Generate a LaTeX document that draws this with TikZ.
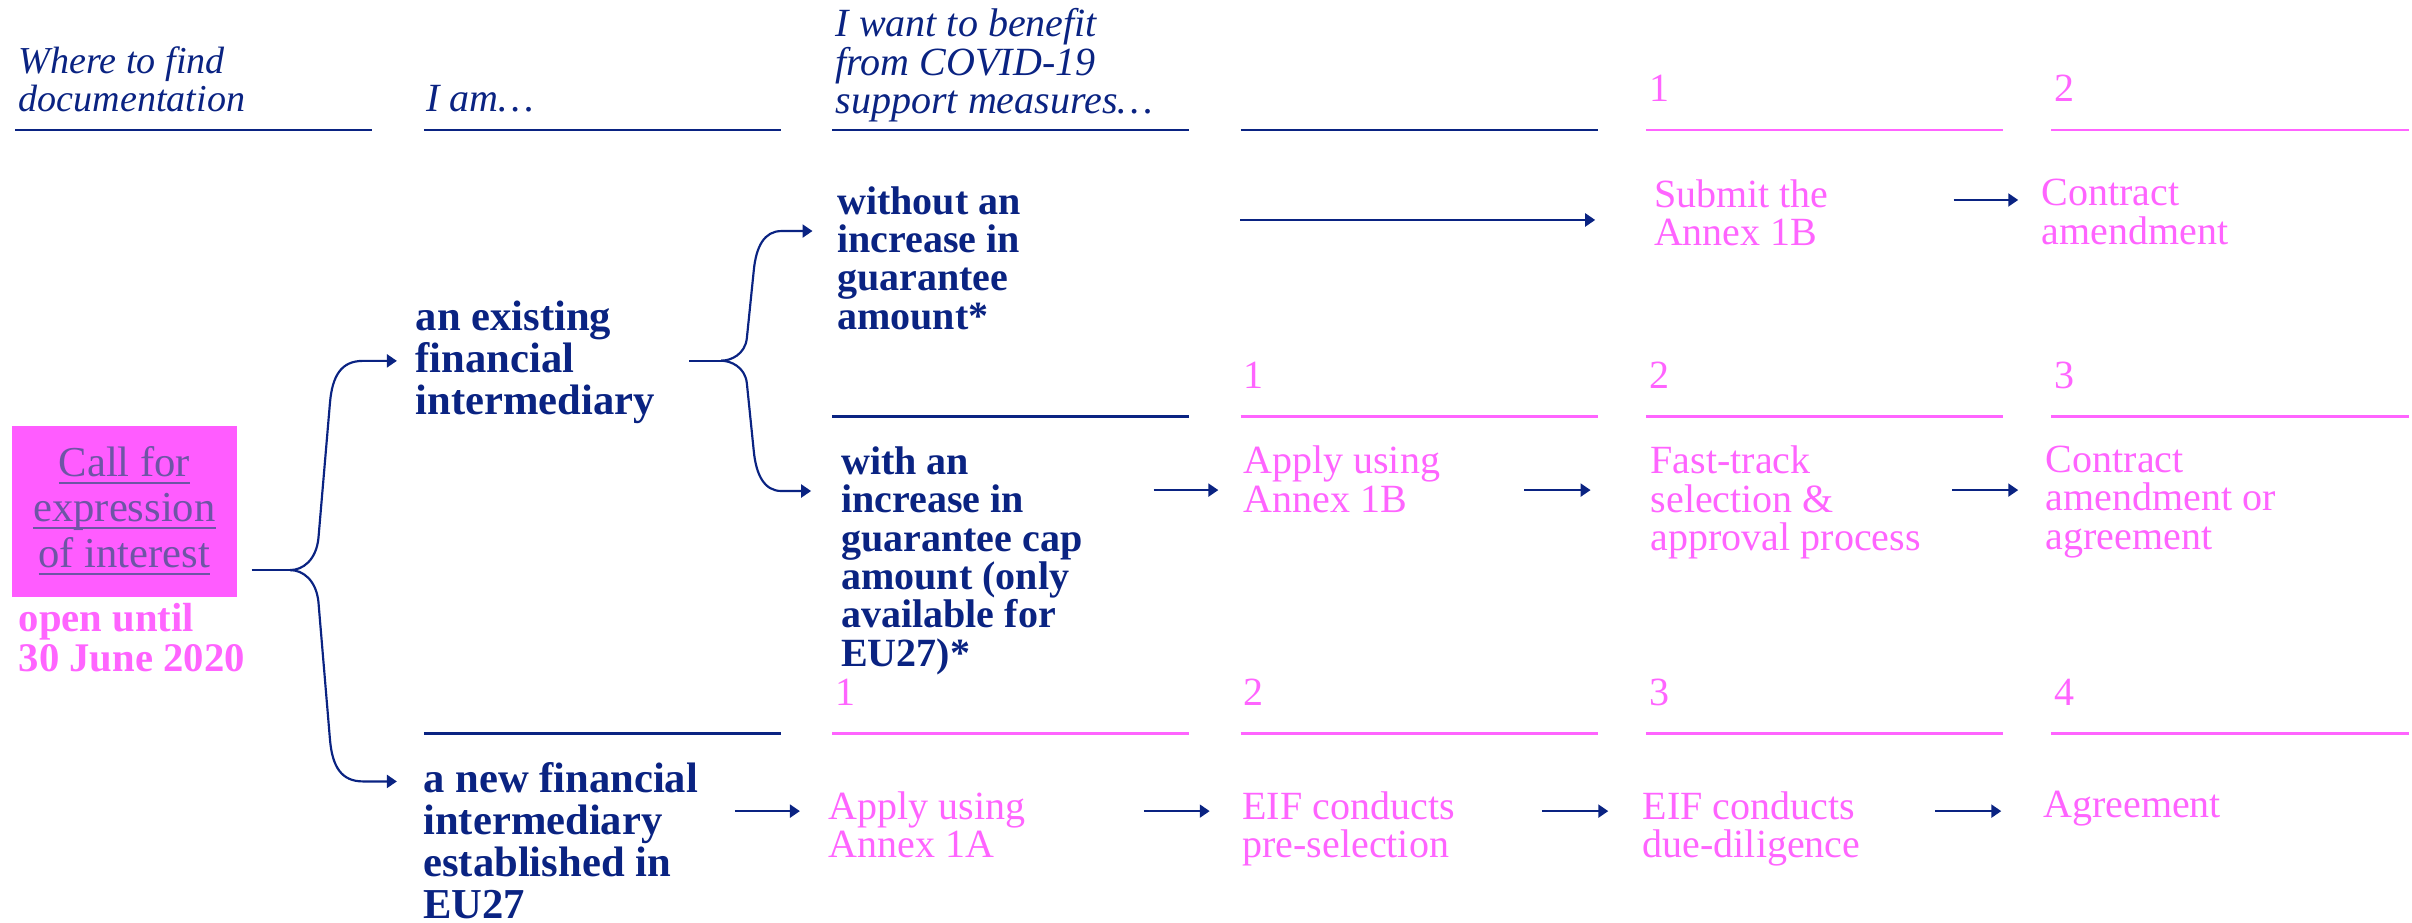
\documentclass[tikz,border=0pt]{standalone}
\usepackage{amsmath}
\usepackage{fontspec}
\setmainfont{Liberation Serif}
\usepackage{xcolor}
\usetikzlibrary{arrows.meta,calc}

\definecolor{navy}{RGB}{10,35,130}
\definecolor{rose}{RGB}{255,100,255}
\definecolor{boxpink}{RGB}{255,92,255}
\definecolor{linkcol}{RGB}{110,85,165}

\newcommand{\lnk}[1]{\underline{\smash[b]{#1}}}

\begin{document}
\begin{tikzpicture}[x=0.025cm, y=0.025cm,
  basetxt/.style={anchor=north west, inner sep=0pt, align=left, font=\fontsize{18.5}{17.75}\selectfont},
  headtxt/.style={basetxt, text=navy, font=\fontsize{18.5}{17.75}\selectfont\itshape},
  boldtxt/.style={basetxt, text=navy, font=\fontsize{18.5}{17.75}\selectfont\bfseries},
  bigtxt/.style={basetxt, text=navy, font=\fontsize{19.7}{19.3}\selectfont\bfseries},
  steptxt/.style={basetxt, text=rose},
  numtxt/.style={anchor=base west, inner sep=0pt, text=rose, font=\fontsize{18.5}{17.75}\selectfont},
  navyrule/.style={draw=navy, line width=1.3pt},
  roserule/.style={draw=rose, line width=1.3pt},
  flow/.style={draw=navy, line width=1pt, -{Triangle[length=4.6pt,width=6pt]}},
  fork/.style={draw=navy, line width=1pt}]
\useasboundingbox (0,0) rectangle (1568,600);

% column heads
\node[headtxt, font=\fontsize{17.6}{17.2}\selectfont\itshape] (Where) at (12,569.7) {Where to find\\documentation};
\node[headtxt] (Iam) at (277,544.7) {I am…};
\node[headtxt] (Want) at (543,594.7) {I want to benefit\\from COVID-19\\support measures…};

\draw[navyrule] (10,515.5) -- (242,515.5);
\draw[navyrule] (275.5,515.5) -- (507.5,515.5);
\draw[navyrule] (541,515.5) -- (773,515.5);
\draw[navyrule] (806.5,515.5) -- (1038.5,515.5);
\draw[roserule] (1070,515.5) -- (1302,515.5);
\draw[roserule] (1333.5,515.5) -- (1566,515.5);
\node[numtxt] (N11) at (1072,534) {1};
\node[numtxt] (N12) at (1335,534) {2};

\draw[navyrule] (541,329) -- (773,329);
\draw[roserule] (806.5,329) -- (1038.5,329);
\draw[roserule] (1070,329) -- (1302,329);
\draw[roserule] (1333.5,329) -- (1566,329);
\node[numtxt] (N21) at (808,347.5) {1};
\node[numtxt] (N22) at (1072,347.5) {2};
\node[numtxt] (N23) at (1335,347.5) {3};

\draw[navyrule] (275.5,123.2) -- (507.5,123.2);
\draw[roserule] (541,123.2) -- (773,123.2);
\draw[roserule] (806.5,123.2) -- (1038.5,123.2);
\draw[roserule] (1070,123.2) -- (1302,123.2);
\draw[roserule] (1333.5,123.2) -- (1566,123.2);
\node[numtxt] (N31) at (543,141.6) {1};
\node[numtxt] (N32) at (808,141.6) {2};
\node[numtxt] (N33) at (1072,141.6) {3};
\node[numtxt] (N34) at (1335,141.6) {4};

% call box
\node[fill=boxpink, minimum width=3.65cm, minimum height=2.775cm, inner sep=0pt, align=center,
  text=linkcol, font=\fontsize{19.7}{21.1}\selectfont] (Call) at (80.9,267.5)
  {\lnk{Call for}\\\lnk{expression}\\\lnk{of interest}};
\node[boldtxt, text=rose, font=\fontsize{18.8}{18.4}\selectfont\bfseries] (Open) at (11.9,208.1) {open until\\30 June 2020};

% who
\node[bigtxt] (Exist) at (270,404.5) {an existing\\financial\\intermediary};
\node[bigtxt] (New) at (275,104.4) {a new financial\\intermediary\\established in\\EU27};
\coordinate (S1) at (163.6,229.4);
\coordinate (J1) at (188.6,229.4);
	\draw[fork] (S1) -- (J1);
	\draw[flow] (J1) .. controls (197,229.4) and (205.5,236) .. (207,250) -- (214.5,338)
		.. controls (216,356) and (222,365.4) .. (236,365.4) -- ($(Exist.north west)+(-12,-39.1)$);
	\draw[flow] (J1) .. controls (197,229.4) and (205.5,222.8) .. (207,208.8) -- (214.5,119.4)
		.. controls (216,101.4) and (222,92) .. (236,92) -- ($(New.north west)+(-17,-12.4)$);

% measures
\node[boldtxt] (Without) at (544,479.2) {without an\\increase in\\guarantee\\amount*};
\node[boldtxt] (With) at (546.6,310) {with an\\increase in\\guarantee cap\\amount (only\\available for\\EU27)*};
\coordinate (S2) at (448.2,365.5);
\coordinate (J2) at (468.8,365.5);
	\draw[fork] (S2) -- (J2);
	\draw[flow] (J2) .. controls (475,365.5) and (484.3,369.5) .. (485.5,380) -- (490,424)
		.. controls (491.5,440) and (497,449.8) .. (508,449.8) -- ($(Without.north west)+(-15.8,-29.4)$);
	\draw[flow] (J2) .. controls (475,365.5) and (484.3,361.5) .. (485.5,351) -- (490,307)
		.. controls (491.5,291) and (497,280.8) .. (508,280.8) -- ($(With.north west)+(-19.3,-29.2)$);

% steps, first row
\node[steptxt] (Sub) at (1075,483.7) {Submit the\\Annex 1B};
	\draw[flow] ($(Sub.north west)+(-268.8,-26.7)$) -- ($(Sub.north west)+(-38,-26.7)$);
\node[steptxt] (Con1) at (1327,483.7) {Contract\\amendment};
	\draw[flow] ($(Con1.north west)+(-57,-13.7)$) -- ($(Con1.north west)+(-15,-13.7)$);

% steps, second row
\node[steptxt] (App1) at (808,310.3) {Apply using\\Annex 1B};
	\draw[flow] ($(App1.north west)+(-58,-28.9)$) -- ($(App1.north west)+(-16,-28.9)$);
\node[steptxt] (Fast) at (1072.8,310.3) {Fast-track\\selection \&\\approval process};
	\draw[flow] ($(Fast.north west)+(-81.8,-28.9)$) -- ($(Fast.north west)+(-38.8,-28.9)$);
\node[steptxt] (Con2) at (1329.7,310.3) {Contract\\amendment or\\agreement};
	\draw[flow] ($(Con2.north west)+(-60.7,-28.9)$) -- ($(Con2.north west)+(-17.7,-28.9)$);

% steps, third row
\node[steptxt] (App2) at (538.3,85.7) {Apply using\\Annex 1A};
	\draw[flow] ($(App2.north west)+(-60.6,-13)$) -- ($(App2.north west)+(-18.3,-13)$);
\node[steptxt] (Eif1) at (807.4,85.7) {EIF conducts\\pre-selection};
	\draw[flow] ($(Eif1.north west)+(-63.8,-13)$) -- ($(Eif1.north west)+(-21,-13)$);
\node[steptxt] (Eif2) at (1067.6,85.7) {EIF conducts\\due-diligence};
	\draw[flow] ($(Eif2.north west)+(-65.3,-13)$) -- ($(Eif2.north west)+(-22.1,-13)$);
\node[steptxt] (Agr) at (1328,85.7) {Agreement};
	\draw[flow] ($(Agr.north west)+(-70,-13)$) -- ($(Agr.north west)+(-27,-13)$);
\end{tikzpicture}
\end{document}
